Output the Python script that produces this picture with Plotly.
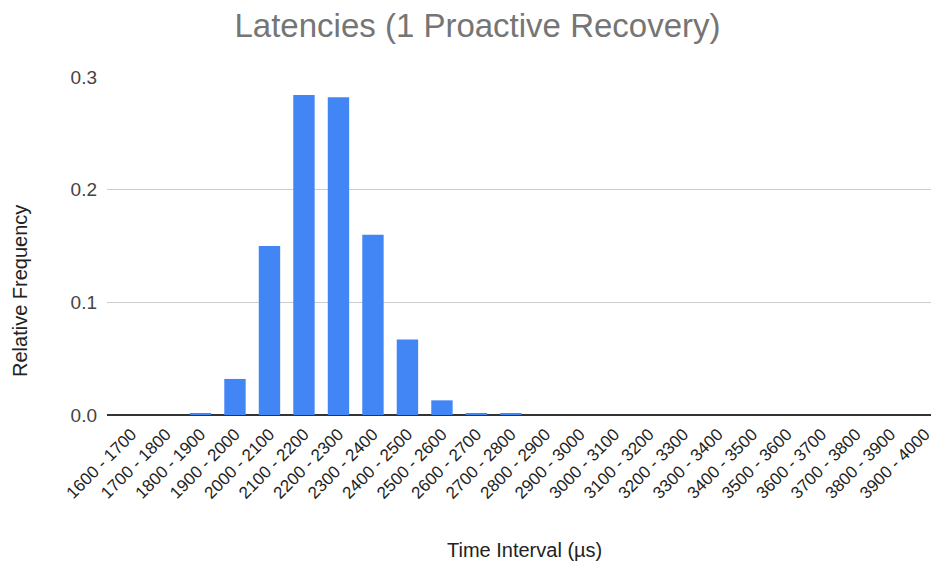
import plotly.graph_objects as go

categories = [f"{s} - {s+100}" for s in range(1600, 4000, 100)]
values = [0.0, 0.0, 0.001, 0.032, 0.150, 0.284, 0.282, 0.160, 0.067, 0.013,
          0.001, 0.001, 0, 0, 0, 0, 0, 0, 0, 0, 0, 0, 0, 0]
title = "Latencies (1 Proactive Recovery)"
x_title = "Time Interval (µs)"
y_title = "Relative Frequency"
y_ticks = [0.0, 0.1, 0.2, 0.3]
y_tick_labels = ["0.0", "0.1", "0.2", "0.3"]

FONT = "Liberation Sans, Arial"
L, R, T, B, W, H = 99, 9, 69, 158, 939, 565
PW, PH = W - L - R, H - T - B


def px_to_paper(xp, yp):
    return (xp - L) / PW, (H - B - yp) / PH


fig = go.Figure(go.Bar(x=categories, y=values, marker_color="#4285F4",
                       marker_line_width=0))
fig.update_layout(
    width=W, height=H,
    paper_bgcolor="white", plot_bgcolor="white",
    font=dict(family=FONT, color="#222222", size=16),
    title=dict(text=title, x=0.5, xanchor="center", y=1 - 17 / H, yanchor="middle",
               font=dict(size=33, color="#757575")),
    margin=dict(l=L, r=R, t=T, b=B, autoexpand=False),
    bargap=0.38,
    showlegend=False,
)
yx, yy = px_to_paper(12, 283)
xx, xy = px_to_paper(516, 542)
fig.add_annotation(text=y_title, xref="paper", yref="paper", x=yx, y=yy,
                   textangle=-90, showarrow=False, xanchor="center", yanchor="middle",
                   font=dict(size=20, color="#222222"))
fig.add_annotation(text=x_title, xref="paper", yref="paper", x=xx, y=xy,
                   showarrow=False, xanchor="center", yanchor="middle",
                   font=dict(size=20, color="#222222"))
fig.update_xaxes(type="category", tickangle=-45, showgrid=False,
                 range=[-0.71, 23.38],
                 tickfont=dict(size=17, color="#222222"), ticks="",
                 ticklabelstandoff=5)
fig.update_yaxes(range=[0, 0.3], tickvals=y_ticks, ticktext=y_tick_labels,
                 showgrid=True, gridcolor="#cccccc", gridwidth=1,
                 zeroline=True, zerolinecolor="#333333", zerolinewidth=1.5,
                 tickfont=dict(size=19, color="#444444"), ticks="",
                 ticklabelstandoff=9)
fig.update_traces(cliponaxis=False)
fig.write_html("out.html")
